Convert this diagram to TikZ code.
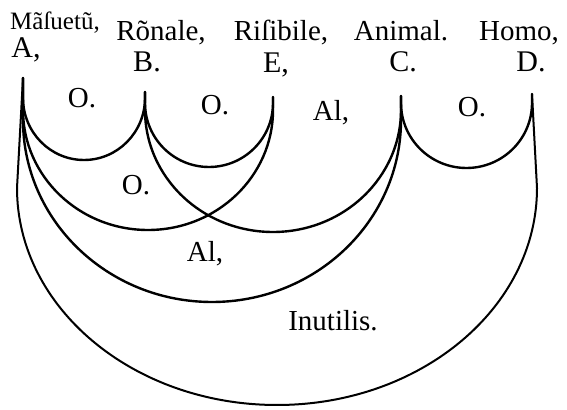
\documentclass[tikz,border=0pt]{standalone}
\usepackage{fontspec}
\setmainfont{Liberation Serif}
\usetikzlibrary{positioning}

\begin{document}
\begin{tikzpicture}[
  x=0.5pt,y=-0.5pt,
  word/.style={anchor=base,inner sep=0pt,font=\fontsize{14.5}{16}\selectfont},
  letter/.style={anchor=base,inner sep=0pt,font=\fontsize{15}{17}\selectfont},
  region/.style={anchor=base,inner sep=0pt,font=\fontsize{14.5}{16}\selectfont},
  bow/.style={line width=1.2pt,line join=round,line cap=round}
]
\useasboundingbox (0,0) rectangle (567,410);
% terms
\node[word,font=\fontsize{12.5}{14}\selectfont] (mans) at (55,30) {Mãſuetũ,};
\node[word] (rat) at (161,41) {Rõnale,};
\node[word] (ris) at (281,41) {Riſibile,};
\node[word] (ani) at (401,41) {Animal.};
\node[word] (hom) at (519,41) {Homo,};
% letters
\node[letter] (la) at (26,58) {A,};
\node[letter] (lb) at (147,72) {B.};
\node[letter] (le) at (276,73) {E,};
\node[letter] (lc) at (403,72) {C.};
\node[letter] (ld) at (531,72) {D.};
% tops of the stems
\coordinate (a) at (23,78);
\coordinate (b) at (145,92);
\coordinate (e) at (273,97);
\coordinate (c) at (401,96);
\coordinate (d) at (532,94);
% bows
\draw[bow] (a) -- (23,98) arc[start angle=180,end angle=360,x radius=30.5pt,y radius=31pt] -- (b);
\draw[bow] (b) -- (145,103) arc[start angle=180,end angle=360,x radius=32pt,y radius=32pt] -- (e);
\draw[bow] (c) -- (401,103) arc[start angle=180,end angle=360,x radius=32.75pt,y radius=32.5pt] -- (d);
\draw[bow] (a) -- (23,110) arc[start angle=180,end angle=360,x radius=62.5pt,y radius=60pt] -- (e);
\draw[bow] (b) -- (145,110) arc[start angle=180,end angle=360,x radius=64pt,y radius=61pt] -- (c);
\draw[bow] (a) -- (23,120) arc[start angle=180,end angle=360,x radius=94.5pt,y radius=91pt] -- (c);
\draw[bow,line width=1pt] (a) -- (17,188) arc[start angle=180,end angle=360,x radius=130pt,y radius=108.5pt] -- (d);
% regions
\node[region] (o1) at (82,108) {O.};
\node[region] (o2) at (215,115) {O.};
\node[region] (al1) at (331,121) {Al,};
\node[region] (o3) at (472,117) {O.};
\node[region] (o4) at (136,195) {O.};
\node[region] (al2) at (205,262) {Al,};
\node[region] (inu) at (333,331) {Inutilis.};
\end{tikzpicture}
\end{document}
